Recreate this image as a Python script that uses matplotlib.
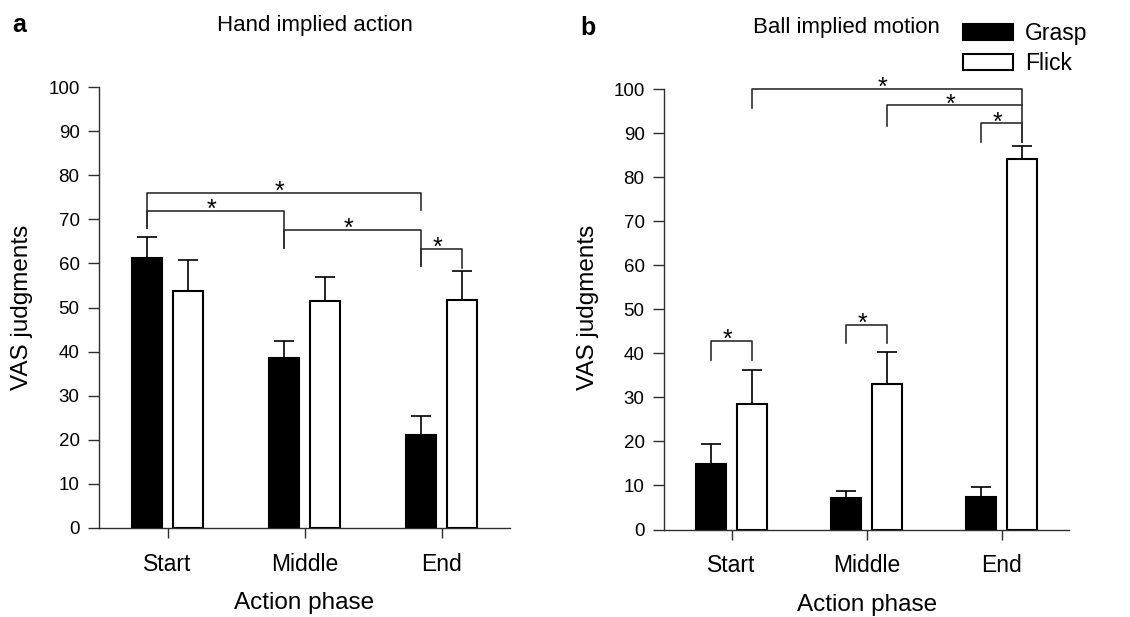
import matplotlib
matplotlib.use("Agg")
import matplotlib.pyplot as plt
import numpy as np

plt.rcParams["font.family"] = ["Liberation Sans", "DejaVu Sans"]

phases = ["Start", "Middle", "End"]
series = ["Grasp", "Flick"]

# panel a: hand implied action
hand_grasp = [61.2, 38.5, 21.1]
hand_grasp_err = [4.8, 4.0, 4.3]
hand_flick = [53.8, 51.5, 51.7]
hand_flick_err = [7.0, 5.5, 6.5]

# panel b: ball implied motion
ball_grasp = [14.8, 7.2, 7.3]
ball_grasp_err = [4.5, 1.5, 2.4]
ball_flick = [28.5, 33.1, 84.1]
ball_flick_err = [7.6, 7.3, 2.9]

# significance brackets: (series_i, phase_i, series_j, phase_j, y, drop_i, drop_j)
hand_sig = [
    (0, 0, 0, 2, 76.0, 68.0, 72.0),
    (0, 0, 0, 1, 71.9, 68.0, 63.6),
    (0, 1, 0, 2, 67.6, 63.6, 59.3),
    (0, 2, 1, 2, 63.3, 59.3, 59.0),
]
ball_sig = [
    (1, 0, 1, 2, 100.0, 95.6, 87.9),
    (1, 1, 1, 2, 96.3, 91.7, 96.3),
    (0, 2, 1, 2, 92.2, 87.9, 87.9),
    (0, 0, 1, 0, 42.9, 38.5, 38.5),
    (0, 1, 1, 1, 46.5, 42.3, 42.3),
]

OFF = 0.15
W = 0.22
GRAY = "#2e2e2e"


def bar_x(s, p):
    return p + (-OFF if s == 0 else OFF)


def draw_panel(ax, grasp, grasp_err, flick, flick_err, sig):
    x = np.arange(len(phases))
    z = [0] * len(phases)
    ax.bar(x - OFF, grasp, W, color="black", edgecolor="black", lw=1.5, label=series[0], zorder=3)
    ax.bar(x + OFF, flick, W, color="white", edgecolor="black", lw=1.5, label=series[1], zorder=3)
    ax.errorbar(x - OFF, grasp, yerr=[z, grasp_err], fmt="none", ecolor="black",
                elinewidth=1.2, capsize=7, capthick=1.2, zorder=2)
    ax.errorbar(x + OFF, flick, yerr=[z, flick_err], fmt="none", ecolor="black",
                elinewidth=1.2, capsize=7, capthick=1.2, zorder=2)
    for si, pi, sj, pj, y, di, dj in sig:
        xi, xj = bar_x(si, pi), bar_x(sj, pj)
        ax.plot([xi, xi, xj, xj], [di, y, y, dj], color=GRAY, lw=1.2, clip_on=False, zorder=4)
        ax.text((xi + xj) / 2 - 0.03, y - 1.4, "*", ha="center", va="baseline", fontsize=18,
                clip_on=False)
    ax.set_xlim(-0.5, 2.5)
    ax.set_ylim(0, 100)
    ax.set_yticks(range(0, 101, 10))
    ax.set_xticks(x)
    ax.set_xticklabels(phases, fontsize=16.5)
    ax.tick_params(axis="y", labelsize=13.5, length=8, width=1, color=GRAY, pad=6)
    ax.tick_params(axis="x", length=7, width=1, color=GRAY, pad=11)
    for s in ["top", "right"]:
        ax.spines[s].set_visible(False)
    for s in ["left", "bottom"]:
        ax.spines[s].set_color(GRAY)
        ax.spines[s].set_linewidth(1.0)


fig = plt.figure(figsize=(11.3, 6.17), dpi=100)
ax1 = fig.add_axes([99 / 1130, 1 - 528 / 617, 411 / 1130, 441 / 617])
ax2 = fig.add_axes([664 / 1130, 1 - 529.5 / 617, 405 / 1130, 440.5 / 617])

draw_panel(ax1, hand_grasp, hand_grasp_err, hand_flick, hand_flick_err, hand_sig)
draw_panel(ax2, ball_grasp, ball_grasp_err, ball_flick, ball_flick_err, ball_sig)

# titles, panel letters, axis labels
fig.text(315 / 1130, 1 - 26 / 617, "Hand implied action", ha="center", va="center", fontsize=16)
fig.text(846 / 1130, 1 - 27 / 617, "Ball implied motion", ha="center", va="center", fontsize=16)
fig.text(12 / 1130, 1 - 25 / 617, "a", ha="left", va="center", fontsize=18, fontweight="bold")
fig.text(580 / 1130, 1 - 28 / 617, "b", ha="left", va="center", fontsize=18, fontweight="bold")
for xc in (22, 588):
    fig.text(xc / 1130, 1 - 307 / 617, "VAS judgments", rotation=90, ha="center",
             va="center", fontsize=17.5)
fig.text(304 / 1130, 1 - 603 / 617, "Action phase", ha="center", va="center", fontsize=17.5)
fig.text(867 / 1130, 1 - 605 / 617, "Action phase", ha="center", va="center", fontsize=17.5)

ax2.legend(loc="upper left", bbox_to_anchor=(963 / 1130, 1 - 22 / 617),
           bbox_transform=fig.transFigure, frameon=False, fontsize=16.5, borderpad=0,
           borderaxespad=0, handlelength=2.2, handleheight=0.7, labelspacing=0.3,
           handletextpad=0.5)

fig.savefig("out.png", dpi=100)
